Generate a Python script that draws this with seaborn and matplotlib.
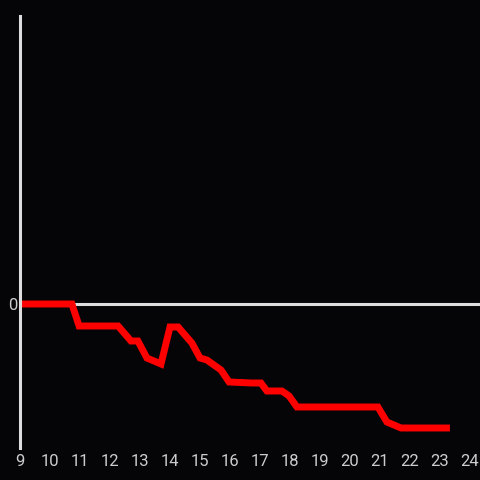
import pandas as pd
import seaborn as sns
import matplotlib.pyplot as plt

# hours of the day and the running value (arbitrary units, 0 = start level)
hours = [9.0, 10.73, 10.97, 12.27, 12.7, 12.93, 13.23, 13.7, 14.0, 14.27, 14.73,
         15.0, 15.23, 15.7, 15.97, 16.73, 17.03, 17.23, 17.73, 17.97, 18.23,
         20.93, 21.23, 21.7, 23.33]
values = [0, 0, -2.2, -2.2, -3.7, -3.7, -5.4, -6.0, -2.3, -2.3, -3.9,
          -5.4, -5.6, -6.6, -7.8, -7.9, -7.9, -8.7, -8.7, -9.2, -10.3,
          -10.3, -11.8, -12.4, -12.4]
x_ticks = list(range(9, 25))

bg = '#050407'
fg = '#dddddd'

sns.set_theme(style='dark', rc={'axes.facecolor': bg, 'figure.facecolor': bg})
plt.rcParams['font.family'] = ['Roboto', 'DejaVu Sans']
df = pd.DataFrame({'hour': hours, 'value': values})

fig = plt.figure(figsize=(4.8, 4.8), dpi=100)
ax = fig.add_axes([20 / 480, 32 / 480, 460 / 480, 432 / 480])
ax.axhline(0, color=fg, lw=2.2, zorder=1)
sns.lineplot(data=df, x='hour', y='value', ax=ax, color='#ff0000', lw=5,
             solid_capstyle='butt', solid_joinstyle='miter', zorder=2)

ax.set_xlim(9, 24 + 1 / 3)
ax.set_ylim(-14.4, 28.8)
ax.set_xticks(x_ticks)
ax.set_xticklabels([str(t) for t in x_ticks])
ax.set_yticks([0])
ax.set_yticklabels(['0'])
ax.set_xlabel('')
ax.set_ylabel('')
ax.tick_params(colors='#cccccc', labelsize=12, length=0, pad=4)
ax.tick_params(axis='y', pad=2)
ax.grid(False)
for s in ['top', 'right', 'bottom']:
    ax.spines[s].set_visible(False)
ax.spines['left'].set_color(fg)
ax.spines['left'].set_linewidth(2.2)

fig.savefig('out.png', dpi=100, facecolor=bg)
